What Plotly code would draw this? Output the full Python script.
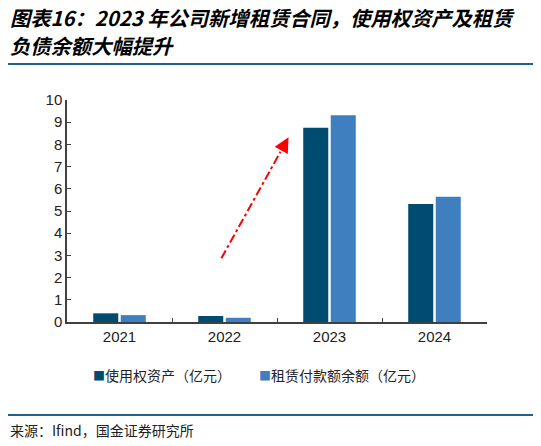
import plotly.graph_objects as go

# Data
years = ["2021", "2022", "2023", "2024"]
right_of_use = [0.39, 0.27, 8.75, 5.32]
lease_liability = [0.31, 0.19, 9.31, 5.64]
series_names = ["使用权资产（亿元）", "租赁付款额余额（亿元）"]

# Trend arrow (category index, value)
arrow_x = [0.97, 1.61]
arrow_y = [2.87, 8.32]

title_lines = [
    "图表16：2023 年公司新增租赁合同，使用权资产及租赁",
    "负债余额大幅提升",
]
source_text = "来源：Ifind，国金证券研究所"

DARK = "#004B70"
LIGHT = "#3F7FBF"
RULE = "#22628A"
CJK = "Noto Sans CJK SC"

# the page body has an 8px margin, so the figure is laid out in
# screen pixels shifted by OFF
OFF = 8
W, H = 541 - OFF, 446 - OFF
PLOT_L, PLOT_R, PLOT_T, PLOT_B = 67, 487, 100, 322  # screen pixels
ML, MT = PLOT_L - OFF, PLOT_T - OFF
MR, MB = W - (PLOT_R - OFF), H - (PLOT_B - OFF)


def px(xs):
    return (xs - PLOT_L) / (PLOT_R - PLOT_L)


def py(ys):
    return (PLOT_B - ys) / (PLOT_B - PLOT_T)


fig = go.Figure()
fig.add_trace(go.Bar(x=years, y=right_of_use, name=series_names[0],
                     marker=dict(color=DARK, line=dict(width=0))))
fig.add_trace(go.Bar(x=years, y=lease_liability, name=series_names[1],
                     marker=dict(color=LIGHT, line=dict(width=0))))

# dash-dot arrow: shaft as shape, head as annotation
tip_x, tip_y = arrow_x[1], arrow_y[1]
fx = arrow_x[0] + (arrow_x[1] - arrow_x[0]) * 0.88
fy = arrow_y[0] + (arrow_y[1] - arrow_y[0]) * 0.88
fig.add_shape(type="line", xref="x", yref="y",
              x0=arrow_x[0], y0=arrow_y[0], x1=fx, y1=fy,
              line=dict(color="red", width=2, dash="dashdot"))
fig.add_annotation(x=tip_x, y=tip_y, ax=fx, ay=fy, xref="x", yref="y",
                   axref="x", ayref="y", text="", showarrow=True,
                   arrowhead=2, arrowsize=1.5, arrowwidth=2, arrowcolor="red")

# title, rules and source
for line, yy in zip(title_lines, [17, 45]):
    fig.add_annotation(x=px(9), y=py(yy), xref="paper", yref="paper",
                       text=f"<b><i>{line}</i></b>", showarrow=False,
                       xanchor="left", yanchor="middle", borderpad=0,
                       font=dict(family=CJK, size=20.3, color="black"))
for yy in (64, 415):
    fig.add_shape(type="line", xref="paper", yref="paper",
                  x0=px(5), x1=px(536), y0=py(yy), y1=py(yy),
                  line=dict(color=RULE, width=2))
fig.add_annotation(x=px(8), y=py(430), xref="paper", yref="paper",
                   text=source_text, showarrow=False,
                   xanchor="left", yanchor="middle",
                   font=dict(family=CJK, size=14, color="#222222"))

# legend drawn as text with coloured squares
for name, color, xs in zip(series_names, [DARK, LIGHT], [91, 257]):
    fig.add_annotation(x=px(xs), y=py(375), xref="paper", yref="paper",
                       text=f"<span style='color:{color};font-size:12px'>■</span>{name}",
                       showarrow=False, xanchor="left", yanchor="middle",
                       font=dict(family=CJK, size=14, color="#222222"))

fig.update_layout(
    width=W, height=H,
    margin=dict(l=ML, r=MR, t=MT, b=MB, pad=0),
    paper_bgcolor="white", plot_bgcolor="white",
    barmode="group", bargap=0.476, bargroupgap=0.09,
    showlegend=False,
    font=dict(family="Liberation Sans", size=15, color="#222222"),
)
fig.update_xaxes(type="category", showline=True, linecolor="#404040", linewidth=1.5,
                 ticks="inside", ticklen=4, tickcolor="#404040", tickson="boundaries",
                 showgrid=False, tickfont=dict(size=15))
fig.update_yaxes(range=[0, 10], dtick=1, showline=True, linecolor="#404040",
                 linewidth=1.5, ticks="inside", ticklen=4, tickcolor="#404040",
                 showgrid=False, zeroline=False, tickfont=dict(size=15))

fig.write_html("out.html")
